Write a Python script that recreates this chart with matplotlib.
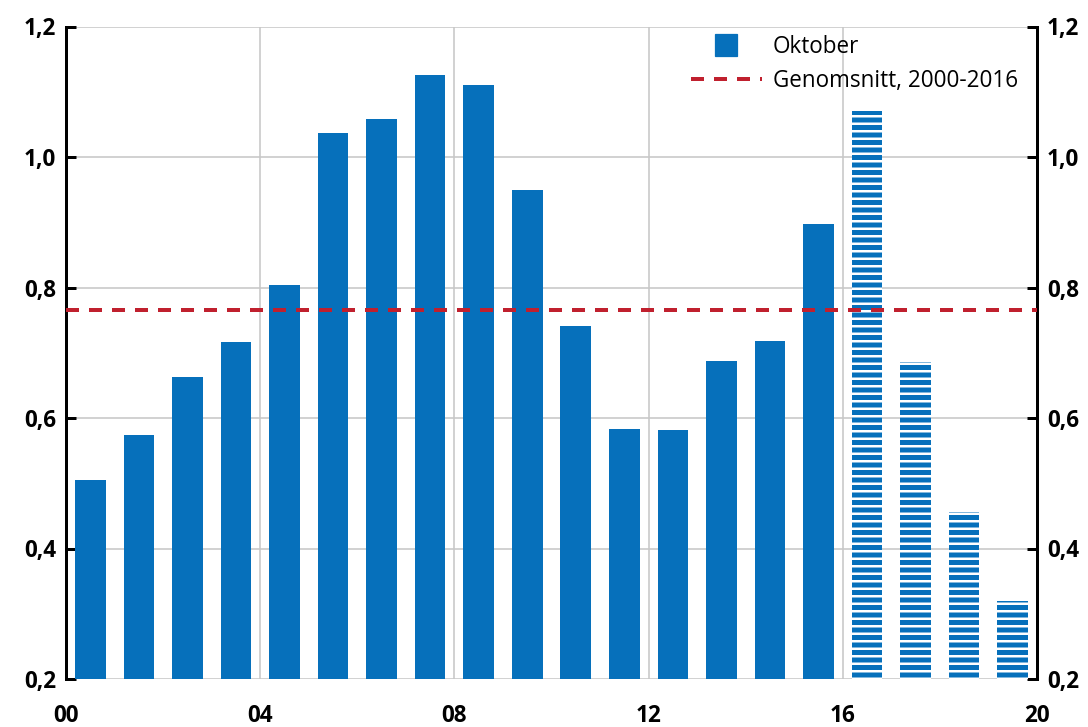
import matplotlib
matplotlib.use("Agg")
import matplotlib.pyplot as plt
from matplotlib.lines import Line2D
from matplotlib.ticker import FuncFormatter

plt.rcParams['font.family'] = ['Open Sans', 'DejaVu Sans']
plt.rcParams['hatch.linewidth'] = 2.0
plt.rcParams['lines.scale_dashes'] = False

# data (October values, 2000-2019)
years = [2000, 2001, 2002, 2003, 2004, 2005, 2006, 2007, 2008, 2009,
         2010, 2011, 2012, 2013, 2014, 2015, 2016, 2017, 2018, 2019]
values = [0.505, 0.574, 0.663, 0.716, 0.804, 1.037, 1.058, 1.125, 1.110, 0.949,
          0.741, 0.583, 0.581, 0.687, 0.718, 0.897, 1.071, 0.686, 0.456, 0.319]
striped = [False] * 16 + [True] * 4
average = 0.766
avg_label = "Genomsnitt, 2000-2016"
bar_label = "Oktober"
xticks = [0, 4, 8, 12, 16, 20]
xticklabels = ["00", "04", "08", "12", "16", "20"]
yticks = [0.2, 0.4, 0.6, 0.8, 1.0, 1.2]

blue = '#0670bb'
red = '#c0202e'

dpi = 90
fig = plt.figure(figsize=(1088 / dpi, 727 / dpi), dpi=dpi)
ax = fig.add_axes([66 / 1088, 1 - 679 / 727, (1037 - 66) / 1088, (679 - 26.5) / 727])

xs = [y - years[0] + 0.5 for y in years]
for x, v, s in zip(xs, values, striped):
    if s:
        ax.bar(x, v - 0.2, bottom=0.2, width=0.63, color=blue, edgecolor='white',
               linewidth=0, hatch='--', zorder=2)
    else:
        ax.bar(x, v - 0.2, bottom=0.2, width=0.63, color=blue, linewidth=0, zorder=2)

ax.axhline(average, color=red, linewidth=3.2, dashes=(10.4, 8), zorder=3)

ax.set_xlim(0, 20)
ax.set_ylim(0.2, 1.2)
ax.set_xticks(xticks)
ax.set_xticklabels(xticklabels)
ax.set_yticks(yticks)
ax.yaxis.set_major_formatter(FuncFormatter(lambda v, p: f"{v:.1f}".replace('.', ',')))

ax.grid(True, color='#c8c8c8', linewidth=1.3, zorder=0)
ax.set_axisbelow(True)

for side in ['top', 'bottom']:
    ax.spines[side].set_visible(False)
for side in ['left', 'right']:
    ax.spines[side].set_linewidth(2.4)
    ax.spines[side].set_color('black')

ax.tick_params(axis='y', which='both', direction='in', length=8, width=2.4,
               left=True, right=True, labelleft=True, labelright=True,
               labelsize=18, pad=8)
ax.tick_params(axis='x', length=0, labelsize=18, pad=20)
fig.canvas.draw()
for t in ax.xaxis.get_major_ticks() + ax.yaxis.get_major_ticks():
    t.label1.set_fontweight('bold')
    t.label2.set_fontweight('bold')

handles = [
    Line2D([], [], linestyle='none', marker='s', markersize=17, color=blue),
    Line2D([], [], color=red, linewidth=3.2, dashes=(10.4, 8)),
]
ax.legend(handles, [bar_label, avg_label], loc='upper left',
          bbox_to_anchor=(691 / 1088, 1 - 35 / 727), bbox_transform=fig.transFigure,
          frameon=False, fontsize=18, handlelength=3.15, handletextpad=0.5,
          labelspacing=0.45, borderpad=0, borderaxespad=0)

fig.savefig('out.png', dpi=dpi)
